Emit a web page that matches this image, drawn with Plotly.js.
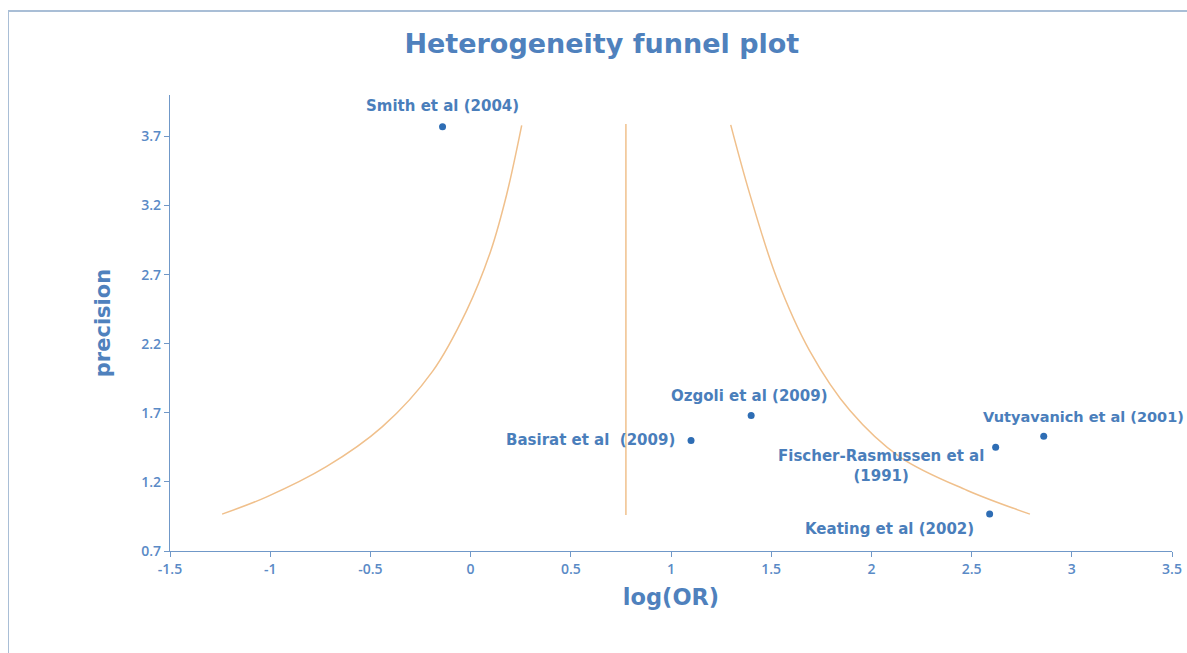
<!DOCTYPE html>
<html>
<head>
<meta charset="utf-8">
<script src="https://cdn.plot.ly/plotly-3.0.1.min.js"></script>
<style>
  html, body { margin: 0; padding: 0; background: #fff; }
  #chart { width: 1187px; height: 653px; position: relative; }
  #frame { position: absolute; left: 8px; top: 10px; width: 1300px; height: 700px;
           border-left: 1px solid #A9BED6; border-top: 2px solid #A9BED6; pointer-events: none; }
</style>
</head>
<body>
<div id="chart"></div>
<div id="frame"></div>
<script>
// Studies (log(OR), precision)
const studyNames = ["Smith et al (2004)", "Ozgoli et al (2009)", "Basirat et al\u00a0 (2009)",
                    "Vutyavanich et al (2001)", "Fischer-Rasmussen et al<br>(1991)", "Keating et al (2002)"];
const studyLogOR = [-0.14, 1.40, 1.10, 2.86, 2.62, 2.59];
const studyPrecision = [3.77, 1.68, 1.50, 1.53, 1.45, 0.967];

// Funnel boundaries
const leftX = [-1.24, -1.02, -0.72, -0.44, -0.19, -0.02, 0.10, 0.18, 0.255];
const leftY = [0.967, 1.09, 1.31, 1.60, 2.00, 2.44, 2.87, 3.28, 3.78];
const rightX = [1.298, 1.394, 1.527, 1.692, 1.893, 2.143, 2.476, 2.791];
const rightY = [3.784, 3.279, 2.678, 2.149, 1.717, 1.380, 1.140, 0.967];
const centerX = [0.775, 0.775];
const centerY = [0.96, 3.79];

const xTicks = [-1.5, -1, -0.5, 0, 0.5, 1, 1.5, 2, 2.5, 3, 3.5];
const yTicks = [0.7, 1.2, 1.7, 2.2, 2.7, 3.2, 3.7];

const lineColor = '#F0C08C';
const blue = '#4F81BD';
const labelBlue = '#4A7EBB';

const lineStyle = {color: lineColor, width: 1.5};
const traces = [
  {x: leftX, y: leftY, mode: 'lines', line: Object.assign({shape: 'spline'}, lineStyle), hoverinfo: 'skip'},
  {x: rightX, y: rightY, mode: 'lines', line: Object.assign({shape: 'spline'}, lineStyle), hoverinfo: 'skip'},
  {x: centerX, y: centerY, mode: 'lines', line: lineStyle, hoverinfo: 'skip'},
  {x: studyLogOR, y: studyPrecision, mode: 'markers', text: studyNames,
   marker: {color: '#2E6DB4', size: 7}}
];

// label placement per study
const placement = [
  {xanchor: 'center', yanchor: 'bottom', xshift: 0, yshift: 10, align: 'center', size: 15},
  {xanchor: 'center', yanchor: 'bottom', xshift: -2, yshift: 9, align: 'center', size: 15},
  {xanchor: 'right', yanchor: 'middle', xshift: -14, yshift: 0, align: 'center', size: 15},
  {xanchor: 'left', yanchor: 'bottom', xshift: -63, yshift: 9, align: 'left', size: 14.5},
  {xanchor: 'right', yanchor: 'top', xshift: -10, yshift: 2, align: 'center', size: 15},
  {xanchor: 'right', yanchor: 'top', xshift: -14, yshift: -4, align: 'center', size: 15}
];
const annotations = studyNames.map((t, i) => ({
  x: studyLogOR[i], y: studyPrecision[i], xref: 'x', yref: 'y', text: t, showarrow: false,
  xanchor: placement[i].xanchor, yanchor: placement[i].yanchor,
  xshift: placement[i].xshift, yshift: placement[i].yshift, align: placement[i].align,
  font: {family: 'DejaVu Sans', size: placement[i].size, color: labelBlue, weight: 'bold'}
}));

const tickFont = {family: 'Open Sans', size: 14, color: '#5A8AC6', weight: 600};
const layout = {
  width: 1187, height: 653,
  margin: {l: 170, r: 15, t: 95, b: 102},
  paper_bgcolor: '#fff', plot_bgcolor: '#fff',
  showlegend: false,
  title: {text: 'Heterogeneity funnel plot', x: 0.507, xref: 'container', xanchor: 'center',
          y: 0.934, yref: 'container', yanchor: 'middle',
          font: {family: 'DejaVu Sans', size: 27, color: blue, weight: 'bold'}},
  xaxis: {range: [-1.5, 3.5], tickvals: xTicks, ticktext: xTicks.map(String),
          showgrid: false, zeroline: false, showline: true, linecolor: '#7098C8', linewidth: 1.2,
          ticks: 'outside', ticklen: 5, tickcolor: '#7098C8', tickfont: tickFont,
          title: {text: 'log(OR)', standoff: 12, font: {family: 'DejaVu Sans', size: 22.5, color: blue, weight: 'bold'}}},
  yaxis: {range: [0.7, 4.0], tickvals: yTicks, ticktext: yTicks.map(v => v.toFixed(1)),
          showgrid: false, zeroline: false, showline: true, linecolor: '#7098C8', linewidth: 1.2,
          ticks: 'outside', ticklen: 5, tickcolor: '#7098C8', tickfont: tickFont,
          title: {text: 'precision', standoff: 24, font: {family: 'DejaVu Sans', size: 21, color: blue, weight: 'bold'}}},
  annotations: annotations
};

Plotly.newPlot('chart', traces, layout, {displayModeBar: false, staticPlot: true});
</script>
</body>
</html>
